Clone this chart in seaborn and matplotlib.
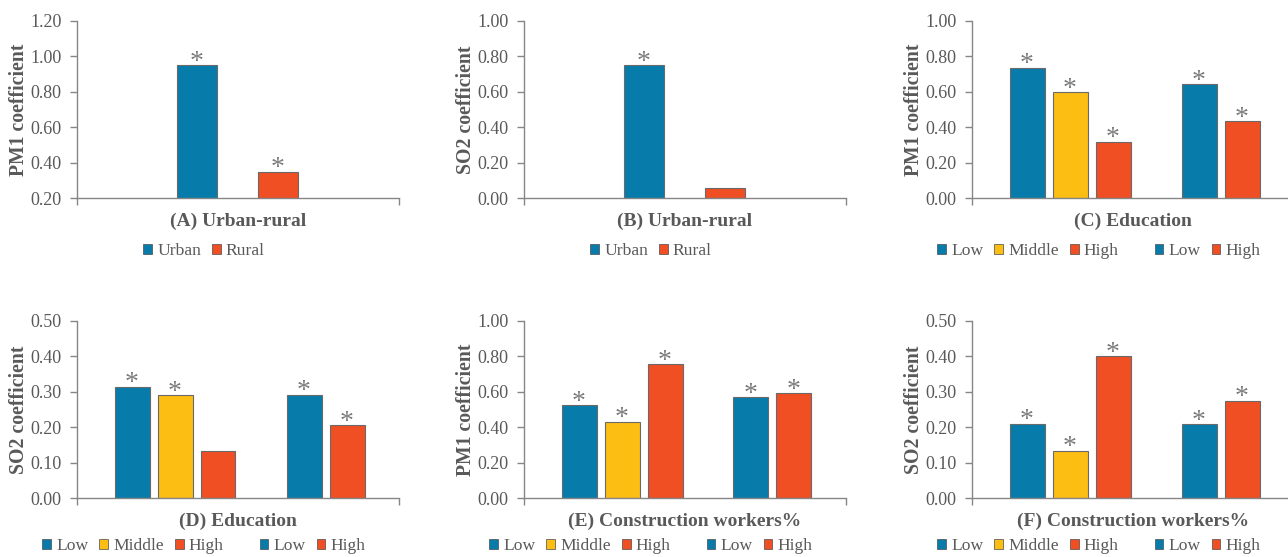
import matplotlib
matplotlib.use("Agg")
import matplotlib.pyplot as plt
import matplotlib.patches as mpatches
import seaborn as sns
import pandas as pd
import numpy as np

# ---------------- data ----------------
urban_rural_labels = ["Urban", "Rural"]
group_labels = ["Low", "Middle", "High", "Low", "High"]

pm1_urban_rural = [0.95, 0.35]
so2_urban_rural = [0.75, 0.06]
pm1_education = [0.735, 0.597, 0.318, 0.641, 0.434]
so2_education = [0.314, 0.290, 0.134, 0.291, 0.206]
pm1_construction = [0.523, 0.431, 0.755, 0.569, 0.592]
so2_construction = [0.210, 0.134, 0.400, 0.209, 0.274]

sig_a = [1, 1]
sig_b = [1, 0]
sig_c = [1, 1, 1, 1, 1]
sig_d = [1, 1, 0, 1, 1]
sig_e = [1, 1, 1, 1, 1]
sig_f = [1, 1, 1, 1, 1]

titles = ["(A) Urban-rural", "(B) Urban-rural", "(C) Education",
          "(D) Education", "(E) Construction workers%", "(F) Construction workers%"]
ylabels = ["PM1 coefficient", "SO2 coefficient", "PM1 coefficient",
           "SO2 coefficient", "PM1 coefficient", "SO2 coefficient"]
yranges = [(0.2, 1.2, 0.2), (0.0, 1.0, 0.2), (0.0, 1.0, 0.2),
           (0.0, 0.5, 0.1), (0.0, 1.0, 0.2), (0.0, 0.5, 0.1)]

BLUE = "#077BAA"
YELLOW = "#FDBE14"
RED = "#F04E23"
two_colors = [BLUE, RED]
five_colors = [BLUE, YELLOW, RED, BLUE, RED]

# ---------------- style ----------------
sns.set_theme(style="white")
plt.rcParams["font.family"] = ["Liberation Serif", "DejaVu Serif"]
TXT = "#595959"
AX = "#868686"

W, H = 1288, 557
fig = plt.figure(figsize=(W / 100, H / 100), dpi=100)
fig.patch.set_facecolor("white")

panel_vals = [pm1_urban_rural, so2_urban_rural, pm1_education,
              so2_education, pm1_construction, so2_construction]
panel_sig = [sig_a, sig_b, sig_c, sig_d, sig_e, sig_f]

lefts = [77, 524, 972]
tops = [20.7, 320.7]
legend_gap = [53, 48]
ax_w, ax_h = 322, 177.6

for i in range(6):
    r, c = divmod(i, 3)
    left = lefts[c]
    bottom = tops[r] + ax_h
    ax = fig.add_axes([left / W, 1 - bottom / H, ax_w / W, ax_h / H])
    vals = panel_vals[i]
    n = len(vals)
    if n == 2:
        labels = urban_rural_labels
        colors = two_colors
        xs = [0.0, 1.0]
        spacing_px = 80.5
        first_px = 120
        bar_w = 40 / spacing_px
    else:
        labels = group_labels
        colors = five_colors
        xs = [1.0, 2.0, 3.0, 5.0, 6.0]
        spacing_px = 43
        first_px = 55
        bar_w = 35 / spacing_px
    keys = [f"{lab}_{k}" for k, lab in enumerate(labels)]
    df = pd.DataFrame({"x": xs, "y": vals, "key": keys})
    sns.barplot(data=df, x="x", y="y", hue="key", palette=dict(zip(keys, colors)),
                native_scale=True, dodge=False, width=bar_w, edgecolor="#6a6a6a",
                linewidth=0.8, legend=False, ax=ax, saturation=1)
    x0 = xs[0] - first_px / spacing_px
    x1 = x0 + ax_w / spacing_px
    ax.set_xlim(x0, x1)
    lo, hi, st = yranges[i]
    ax.set_ylim(lo, hi)
    ticks = np.round(np.arange(lo, hi + st / 2, st), 2)
    ax.set_yticks(ticks)
    ax.set_yticklabels([f"{t:.2f}" for t in ticks])
    ax.set_xticks([x0, x1])
    ax.set_xticklabels(["", ""])
    ax.tick_params(axis="y", direction="out", length=5, width=1, color=AX,
                   labelsize=13, labelcolor=TXT, pad=6, left=True)
    ax.tick_params(axis="x", direction="out", length=5, width=1, color=AX, bottom=True)
    for s in ["top", "right"]:
        ax.spines[s].set_visible(False)
    for s in ["left", "bottom"]:
        ax.spines[s].set_color(AX)
        ax.spines[s].set_linewidth(1.0)
    ax.set_facecolor("none")

    # significance stars
    for xv, yv, sg in zip(xs, vals, panel_sig[i]):
        if sg:
            ax.annotate("*", xy=(xv, yv), xytext=(0, -2.5), textcoords="offset points",
                        ha="center", va="baseline", fontsize=20, color="#7a7a7a")

    ax.set_xlabel(titles[i], fontsize=14, fontweight="bold", color=TXT)
    ax.xaxis.set_label_coords(0.5, -23 / ax_h)
    ax.xaxis.label.set_va("center")
    ax.set_ylabel(ylabels[i], fontsize=14.2, fontweight="bold", color=TXT)
    ax.yaxis.set_label_coords(-58 / ax_w, 0.5)
    ax.yaxis.label.set_va("center")

    # legend
    handles = []
    leg_labels = []
    for k, (lab, colr) in enumerate(zip(labels, colors)):
        if n == 5 and k == 3:
            handles.append(mpatches.Patch(facecolor="none", edgecolor="none"))
            leg_labels.append("")
        handles.append(mpatches.Patch(facecolor=colr, edgecolor="#4a4a4a", linewidth=0.5))
        leg_labels.append(lab)
    cx = (left + ax_w / 2 - 34) / W
    cy = 1 - (bottom + legend_gap[r]) / H
    leg = ax.legend(handles, leg_labels, loc="center", bbox_to_anchor=(cx, cy),
                    bbox_transform=fig.transFigure, ncol=len(handles), frameon=False,
                    fontsize=12.6, handlelength=0.5, handleheight=0.5,
                    handletextpad=0.3, columnspacing=0.62, borderpad=0)
    for t in leg.get_texts():
        t.set_color(TXT)

fig.savefig("out.png", dpi=100, facecolor="white")
